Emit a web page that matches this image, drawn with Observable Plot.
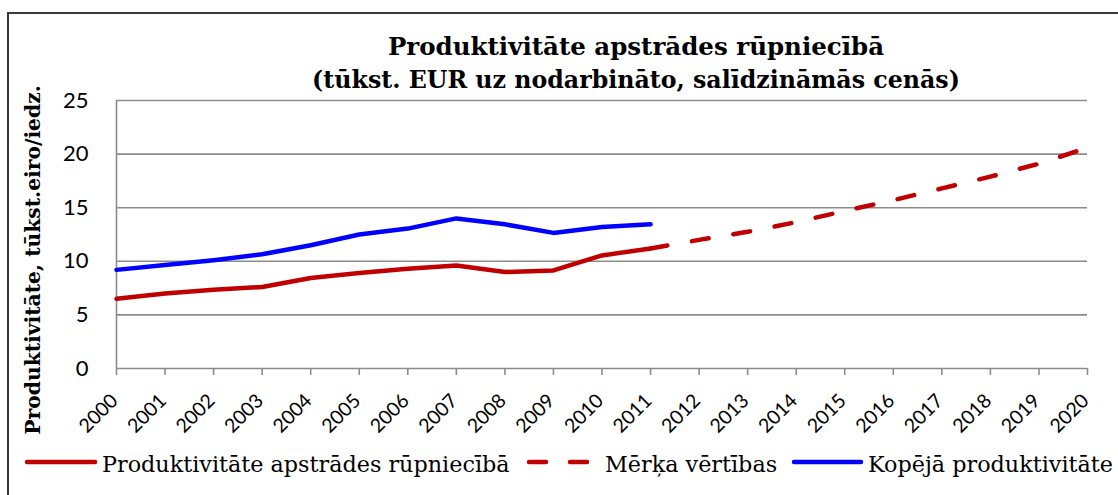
<!DOCTYPE html>
<html><head><meta charset="utf-8">
<script src="https://cdn.jsdelivr.net/npm/d3@7"></script>
<script src="https://cdn.jsdelivr.net/npm/@observablehq/plot@0.6"></script>
<style>
body{margin:0;background:#fff;}
#wrap{position:relative;width:1118px;height:495px;overflow:hidden;background:#fff;}
#frame{position:absolute;left:7px;top:12px;width:1300px;height:700px;border:2px solid #3a3a3a;box-sizing:border-box;}
#title{position:absolute;left:0;top:30px;width:1272px;text-align:center;font-family:"DejaVu Serif",serif;font-weight:bold;font-size:24.5px;line-height:33px;color:#000;}
#title .l2{font-size:23.7px;}
#ylab{position:absolute;left:33px;top:260px;transform:translate(-50%,-50%) rotate(-90deg);white-space:nowrap;font-family:"DejaVu Serif",serif;font-weight:bold;font-size:20.3px;color:#000;}
#chart{position:absolute;left:0;top:0;}
.leg{position:absolute;top:450px;font-family:"DejaVu Serif",serif;font-size:22.3px;color:#000;white-space:nowrap;line-height:28px;}
.sw{position:absolute;top:456px;}
</style>
</head><body>
<div id="wrap">
  <div id="frame"></div>
  <div id="chart"></div>
  <div id="title">Produktivitāte apstrādes rūpniecībā<br><span class="l2">(tūkst. EUR uz nodarbināto, salīdzināmās cenās)</span></div>
  <div id="ylab">Produktivitāte, tūkst.eiro/iedz.</div>
  <div id="legend"></div>
</div>
<script>
// ---- data ----
const years = [2000, 2001, 2002, 2003, 2004, 2005, 2006, 2007, 2008, 2009, 2010, 2011];
const manufacturing = [6.5, 7.0, 7.35, 7.6, 8.45, 8.9, 9.3, 9.6, 9.0, 9.15, 10.55, 11.2];
const total = [9.2, 9.65, 10.1, 10.65, 11.5, 12.5, 13.05, 14.0, 13.45, 12.65, 13.2, 13.45];
const targetYears = [2011, 2012, 2013, 2014, 2015, 2016, 2017, 2018, 2019, 2020];
const target = [11.2, 12.0, 12.75, 13.65, 14.7, 15.7, 16.8, 17.9, 19.1, 20.6];
const xTicks = [2000, 2001, 2002, 2003, 2004, 2005, 2006, 2007, 2008, 2009, 2010, 2011, 2012, 2013, 2014, 2015, 2016, 2017, 2018, 2019, 2020];
const yTicks = [0, 5, 10, 15, 20, 25];
const seriesNames = ["Produktivitāte apstrādes rūpniecībā", "Mērķa vērtības", "Kopējā produktivitāte"];
const colors = {red: "#C00000", blue: "#0000FF", grid: "#8c8c8c"};

const manuData = years.map((y, i) => ({year: y, value: manufacturing[i]}));
const totalData = years.map((y, i) => ({year: y, value: total[i]}));
const targetData = targetYears.map((y, i) => ({year: y, value: target[i]}));

const chart = Plot.plot({
  width: 1118, height: 495,
  marginLeft: 116, marginRight: 31, marginTop: 100, marginBottom: 127,
  x: {domain: [2000, 2020]},
  y: {domain: [0, 25]},
  style: {fontFamily: "Lato, sans-serif", color: "#000", background: "transparent", overflow: "visible"},
  marks: [
    Plot.gridY(yTicks, {stroke: colors.grid, strokeOpacity: 1, strokeWidth: 1.6}),
    Plot.ruleX([2000], {stroke: colors.grid, strokeWidth: 1.6}),
    Plot.axisY(yTicks, {tickSize: 0, tickPadding: 28, fontSize: 22, label: null}),
    Plot.axisX(xTicks, {tickSize: 7, tickFormat: () => "", stroke: colors.grid, strokeWidth: 1.6, label: null}),
    Plot.text(xTicks, {x: d => d, y: 0, text: d => String(d), rotate: -45, textAnchor: "end", dx: -2, dy: 29, fontSize: 19.5, fontFamily: "Lato", fill: "#000"}),
    Plot.line(targetData, {x: "year", y: "value", stroke: colors.red, strokeWidth: 4.5, strokeDasharray: "17,25", strokeLinecap: "round", strokeLinejoin: "round"}),
    Plot.line(manuData, {x: "year", y: "value", stroke: colors.red, strokeWidth: 4.5, strokeLinecap: "round", strokeLinejoin: "round"}),
    Plot.line(totalData, {x: "year", y: "value", stroke: colors.blue, strokeWidth: 4.5, strokeLinecap: "round", strokeLinejoin: "round"})
  ]
});
document.getElementById("chart").appendChild(chart);

// ---- legend ----
const legend = document.getElementById("legend");
const legItems = [
  {name: seriesNames[0], color: colors.red, dash: null, x1: 27, x2: 95, tx: 102},
  {name: seriesNames[1], color: colors.red, dash: "17,24", x1: 529, x2: 587, tx: 605},
  {name: seriesNames[2], color: colors.blue, dash: null, x1: 794, x2: 861, tx: 868}
];
legItems.forEach(it => {
  const s = document.createElementNS("http://www.w3.org/2000/svg", "svg");
  s.setAttribute("class", "sw");
  s.setAttribute("width", it.x2 - it.x1 + 10);
  s.setAttribute("height", 12);
  s.style.left = (it.x1 - 5) + "px";
  const l = document.createElementNS("http://www.w3.org/2000/svg", "line");
  l.setAttribute("x1", 5); l.setAttribute("x2", it.x2 - it.x1 + 5);
  l.setAttribute("y1", 6); l.setAttribute("y2", 6);
  l.setAttribute("stroke", it.color); l.setAttribute("stroke-width", 4.5);
  l.setAttribute("stroke-linecap", "round");
  if (it.dash) l.setAttribute("stroke-dasharray", it.dash);
  s.appendChild(l);
  legend.appendChild(s);
  const t = document.createElement("div");
  t.className = "leg";
  t.style.left = it.tx + "px";
  t.textContent = it.name;
  legend.appendChild(t);
});
</script>
</body></html>
